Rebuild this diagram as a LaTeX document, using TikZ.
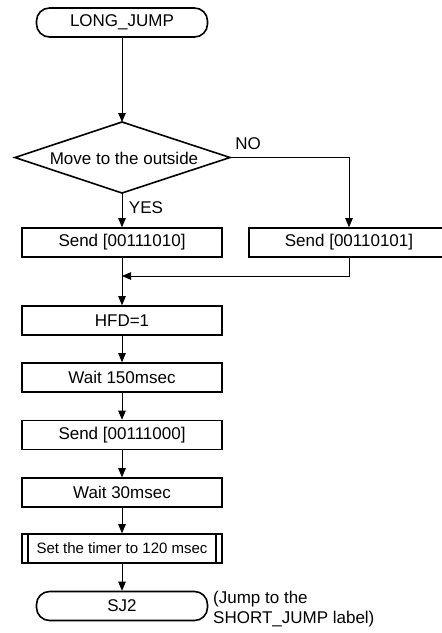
\documentclass[tikz,border=0pt]{standalone}
\usepackage{fontspec}
\setmainfont{Liberation Sans}
\usetikzlibrary{arrows.meta,calc}
\begin{document}
\begin{tikzpicture}[x=1pt,y=-1pt,
  every node/.style={font=\fontsize{17}{20}\selectfont},
  procbox/.style={draw,line width=1.6pt,minimum width=200pt,minimum height=29pt,inner sep=0pt},
  termbox/.style={draw,line width=1.6pt,rounded corners=13pt,minimum width=171pt,minimum height=29pt,inner sep=0pt},
  conn/.style={line width=0.8pt,-{Triangle[length=9pt,width=7.5pt]}},
  plain/.style={line width=0.8pt},
  lbl/.style={inner sep=0pt}]
\useasboundingbox (0,0) rectangle (442,633);
% terminators and boxes
\node[termbox] (lj) at (122,22.5) {LONG\_JUMP};
% decision diamond
\coordinate (dt) at (122,122);
\coordinate (db) at (122,193);
\coordinate (dl) at (15,157.5);
\coordinate (dr) at (230,157.5);
\draw[line width=1.6pt,line join=miter] (dt) -- (dr) -- (db) -- (dl) -- cycle;
\node[lbl] (dtext) at (124,158) {Move to the outside};
\node[lbl] (no) at (248,144) {NO};
\node[lbl] (yes) at (146,208) {YES};
\node[procbox] (s1) at (122,242.5) {Send [00111010]};
\node[procbox] (s2) at (349,242.5) {Send [00110101]};
\node[procbox] (hfd) at (122,320.5) {HFD=1};
\node[procbox] (w150) at (122,377.5) {Wait 150msec};
\node[procbox] (s3) at (122,435) {Send [00111000]};
\node[procbox] (w30) at (122,492.5) {Wait 30msec};
\node[procbox,font=\fontsize{15}{18}\selectfont] (timer) at (122,548.5) {Set the timer to 120 msec};
\draw[line width=1.6pt] ($(timer.north west)+(7,0)$) -- ($(timer.south west)+(7,0)$);
\draw[line width=1.6pt] ($(timer.north east)+(-7,0)$) -- ($(timer.south east)+(-7,0)$);
\node[termbox] (sj2) at (122,606) {SJ2};
\node[lbl,anchor=north west,align=left] (note) at (213,591) {(Jump to the\\SHORT\_JUMP label)};
% connectors
\draw[conn] (lj) -- (dt);
\draw[conn] (db) -- (s1);
\draw[conn] (dr) -| (s2);
\coordinate (mrg) at (122,276);
\draw[conn] (s2.south) |- (mrg);
\draw[conn] (s1) -- (hfd);
\draw[conn] (hfd) -- (w150);
\draw[conn] (w150) -- (s3);
\draw[conn] (s3) -- (w30);
\draw[conn] (w30) -- (timer);
\draw[conn] (timer) -- (sj2);
\end{tikzpicture}
\end{document}
